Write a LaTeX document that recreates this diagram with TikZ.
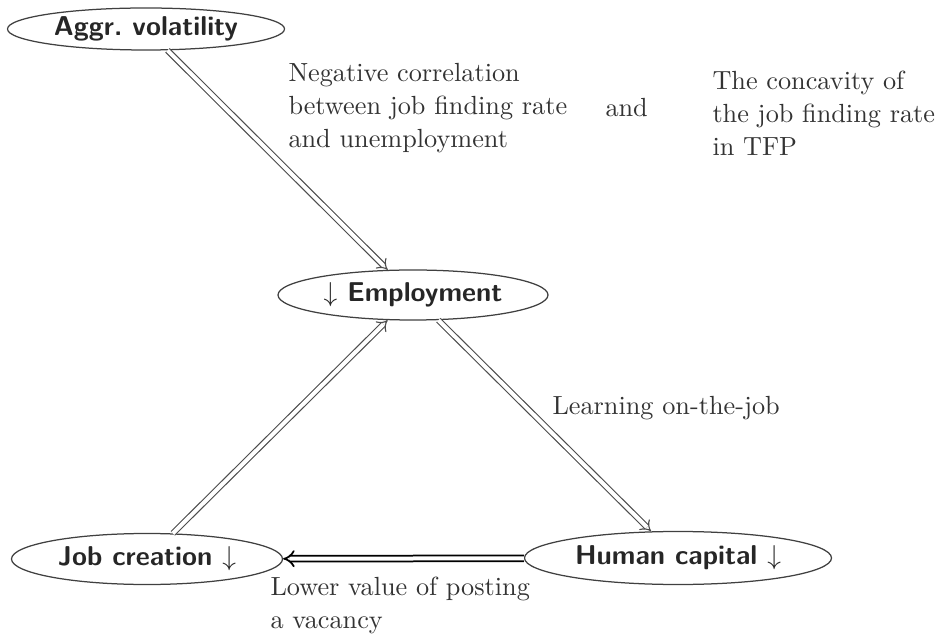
\documentclass[tikz,border=0pt]{standalone}
\usetikzlibrary{shapes.geometric,arrows.meta}
\begin{document}
\begin{tikzpicture}[x=0.4pt,y=-0.4pt,
  state/.style={ellipse, draw=black!75, line width=0.5pt, inner sep=0pt,
    font=\fontsize{10.9}{12}\selectfont\sffamily\bfseries, text=black!85},
  lbl/.style={font=\fontsize{10.5}{13.2}\selectfont, text=black!80, align=left, inner sep=0pt, anchor=west},
  dbl/.style={double, double distance=1.6pt, line width=0.45pt, draw=black!70, -{Implies}}]
\useasboundingbox (0,0) rectangle (938,637);
\node[state, minimum width=277*0.4pt, minimum height=42*0.4pt] (aggr) at (146,29) {Aggr.\ volatility};
\node[state, minimum width=270*0.4pt, minimum height=50*0.4pt] (emp) at (413,295) {$\downarrow$ Employment};
\node[state, minimum width=271*0.4pt, minimum height=51*0.4pt] (job) at (147,559) {Job creation $\downarrow$};
\node[state, minimum width=307*0.4pt, minimum height=53*0.4pt] (hc) at (678,558) {Human capital $\downarrow$};
\draw[dbl] (aggr) -- (emp);
\draw[dbl] (job) -- (emp);
\draw[dbl] (emp) -- (hc);
\draw[dbl, draw=black, line width=0.7pt] (hc) -- (job);
\node[lbl] (neg) at (288,108) {Negative correlation\\between job finding rate\\and unemployment};
\node[lbl] (and) at (605,108) {and};
\node[lbl] (conc) at (712,113) {The concavity of\\the job finding rate\\in TFP};
\node[lbl] (learn) at (552,408) {Learning on-the-job};
\node[lbl] (lower) at (270,605) {Lower value of posting\\a vacancy};
\end{tikzpicture}
\end{document}
